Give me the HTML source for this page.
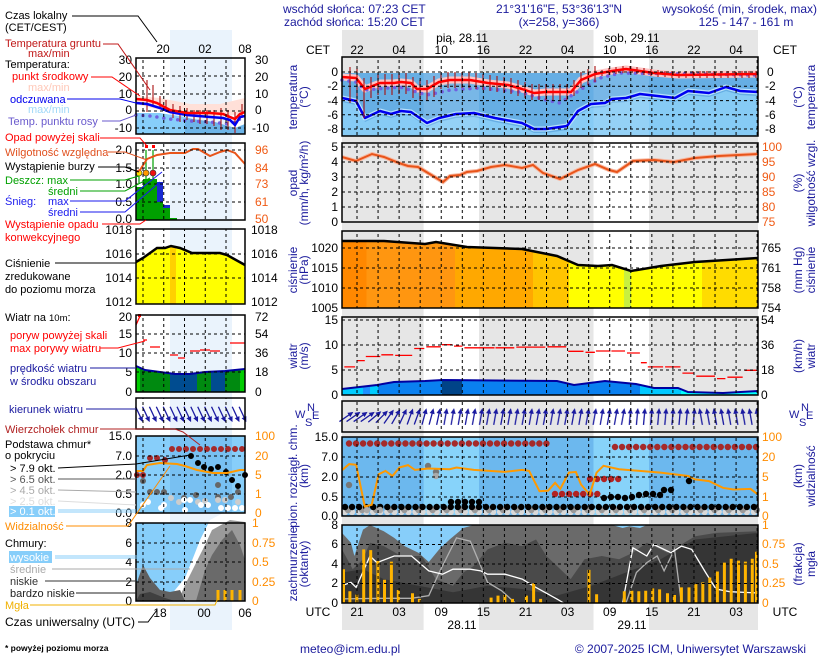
<!DOCTYPE html>
<html><head><meta charset="utf-8"><style>
html,body{margin:0;padding:0;background:#fff;width:820px;height:660px;overflow:hidden}
svg{display:block}
text{font-family:"Liberation Sans",sans-serif}
</style></head><body>
<svg xmlns="http://www.w3.org/2000/svg" xmlns:xlink="http://www.w3.org/1999/xlink" width="820" height="660" viewBox="0 0 820 660">
<defs>
<clipPath id="cpP"><polygon points="342,308 342,241 384,241 425,244 436,242 467,247 522,249 557,256 578,265 598,266 612,265 631,271 661,266 695,262 758,258 758,308"/></clipPath>
<clipPath id="cpW"><polygon points="342,395 342,389 377,385 394,382 425,381 443,380 557,381 574,385 605,381 636,384 654,388 678,388 688,392 723,393 758,391 758,395"/></clipPath>
<clipPath id="cpLP"><polygon points="136,304 136,262 143,258 157,248 165,248 171,246 180,248 192,253 220,253 227,255 245,265 245,304"/></clipPath>
<clipPath id="cpLW"><polygon points="136,392 136,366 145,370 160,372 175,374 190,374 205,372 225,371 245,369 245,392"/></clipPath>
<pattern id="vg" x="356.5" y="0" width="21.06" height="6" patternUnits="userSpaceOnUse"><rect x="0" y="0" width="1" height="3" fill="#000"/></pattern>
<pattern id="lvg" x="142.5" y="0" width="20.75" height="6" patternUnits="userSpaceOnUse"><rect x="0" y="0" width="1" height="3" fill="#000"/></pattern>
<g id="ar"><line x1="0" y1="8" x2="0" y2="-5" stroke="#1a1aa0" stroke-width="1.3"/><polygon points="0,-9 -2.6,-3.5 2.6,-3.5" fill="#1a1aa0"/></g>
<pattern id="p10" x="342.45" y="401" width="7.1" height="31" patternUnits="userSpaceOnUse"><use href="#ar" xlink:href="#ar" transform="translate(3.55,16) rotate(10)"/></pattern>
<pattern id="p5" x="342.45" y="401" width="7.1" height="31" patternUnits="userSpaceOnUse"><use href="#ar" xlink:href="#ar" transform="translate(3.55,16) rotate(5)"/></pattern>
<pattern id="pm10" x="342.45" y="401" width="7.1" height="31" patternUnits="userSpaceOnUse"><use href="#ar" xlink:href="#ar" transform="translate(3.55,16) rotate(-10)"/></pattern>
</defs>

<rect x="342" y="30" width="416" height="600" fill="#e6e6e6"/>
<rect x="423.6" y="30" width="55.4" height="600" fill="#fff"/>
<rect x="593.5" y="30" width="55.5" height="600" fill="#fff"/>
<rect x="170" y="30" width="62" height="600" fill="#eaf3fc"/>

<!-- MAIN TEMP -->
<rect x="342" y="73" width="416" height="63" fill="#66aee4"/>
<polygon points="342,102 356,105 365,122 380,115 391,118 401,115 411,116 427,127 439,122 456,118 474,117 495,122 522,127 534,133 546,133 567,130 578,115 591,108 605,107 612,103 626,102 640,98 675,102 688,95 709,97 726,91 740,95 758,96 758,136 342,136" fill="#86cbf5"/>
<rect x="423.6" y="73" width="55.4" height="63" fill="#fff" opacity="0.12"/>
<rect x="593.5" y="73" width="55.5" height="63" fill="#fff" opacity="0.12"/>
<polyline fill="none" stroke="#b8e2fb" stroke-width="5" stroke-linejoin="round" points="342,98 356,101 365,118 380,111 391,114 401,111 411,112 427,123 439,118 456,114 474,113 495,118 522,123 534,129 546,129 567,126 578,111 591,104 605,103 612,99 626,98 640,94 675,98 688,91 709,93 726,87 740,91 758,92"/>
<polyline fill="none" stroke="#0000f0" stroke-width="2.5" stroke-linejoin="round" points="342,98 356,101 365,118 380,111 391,114 401,111 411,112 427,123 439,118 456,114 474,113 495,118 522,123 534,129 546,129 567,126 578,111 591,104 605,103 612,99 626,98 640,94 675,98 688,91 709,93 726,87 740,91 758,92"/>
<polyline fill="none" stroke="#ffc4c4" stroke-width="7" stroke-linejoin="round" points="342,77 356,78 365,89 380,83 394,83 401,82 411,83 417,89 427,89 439,82 450,80 470,80 488,83 508,85 522,89 534,93 546,92 571,92 581,80 595,74 612,71 626,69 640,71 654,73 678,75 758,74"/>
<polyline fill="none" stroke="#7060e0" stroke-width="3.5" stroke-linecap="round" stroke-dasharray="0,7" points="342,80 356,82 365,90 400,87 427,95 450,90 480,88 520,92 546,100 560,103 580,90 600,78 620,73 758,75"/>
<path fill="none" stroke="#a81010" stroke-width="1.1" d="M350 67V103M357 68V104M364 78V118M371 77V98M378 74V95M385 74V95M392 74V95M399 73V94M406 73V94M413 77V98M420 80V101M427 80V101M434 76V97M441 73V89M448 72V88M455 72V88M462 72V88M469 72V88M476 73V89M483 74V90M490 75V91M497 76V92M504 77V93M511 78V94M518 80V96M525 82V98M532 84V100M539 84V100M546 84V100M553 84V100M560 84V100M567 84V100M574 80V96M581 72V88M588 69V85M595 66V82M602 70V76M609 68V75M616 67V74M623 66V73M630 66V73M637 67V74M644 68V75M651 69V76M658 70V77M665 71V77M672 71V78M679 72V78M686 71V78M693 71V78M700 71V78M707 71V78M714 71V78M721 71V78M728 71V78M735 71V78M742 71V78M749 71V78M756 71V78"/>
<polyline fill="none" stroke="#ff0000" stroke-width="2.5" stroke-linejoin="round" points="342,77 356,78 365,89 380,83 394,83 401,82 411,83 417,89 427,89 439,82 450,80 470,80 488,83 508,85 522,89 534,93 546,92 571,92 581,80 595,74 612,71 626,69 640,71 654,73 678,75 758,74"/>

<!-- MAIN PRECIP -->
<polyline fill="none" stroke="#f8b8a0" stroke-width="4" points="342,157 356,161 372,154 384,157 399,163 408,166 418,167 443,182 450,176 460,175 467,172 477,171 491,167 505,165 522,168 533,165 543,173 560,179 578,170 595,164 609,170 617,172 633,161 654,160 674,162 695,158 719,156 758,154"/>
<polyline fill="none" stroke="#e8541a" stroke-width="2" points="342,157 356,161 372,154 384,157 399,163 408,166 418,167 443,182 450,176 460,175 467,172 477,171 491,167 505,165 522,168 533,165 543,173 560,179 578,170 595,164 609,170 617,172 633,161 654,160 674,162 695,158 719,156 758,154"/>

<!-- MAIN PRESSURE -->
<g clip-path="url(#cpP)">
<rect x="342" y="231" width="25" height="78" fill="#ff8800"/>
<rect x="366.5" y="231" width="89" height="78" fill="#ff9610"/>
<rect x="455" y="231" width="78.5" height="78" fill="#ffa800"/>
<rect x="533" y="231" width="36.5" height="78" fill="#ffc400"/>
<rect x="569" y="231" width="55.5" height="78" fill="#ffff00"/>
<rect x="624" y="231" width="7.5" height="78" fill="#c8f040"/>
<rect x="631" y="231" width="71.5" height="78" fill="#ffff00"/>
<rect x="702" y="231" width="56" height="78" fill="#ffdc00"/>
</g>
<polyline fill="none" stroke="#000" stroke-width="2.5" points="342,241 384,241 425,244 436,242 467,247 522,249 557,256 578,265 598,266 612,265 631,271 661,266 695,262 758,258"/>

<!-- MAIN WIND -->
<g clip-path="url(#cpW)">
<rect x="342" y="370" width="21.5" height="26" fill="#00ccff"/>
<rect x="363" y="370" width="7.5" height="26" fill="#1e90ff"/>
<rect x="370" y="370" width="8.5" height="26" fill="#00ccff"/>
<rect x="378" y="370" width="64.5" height="26" fill="#0a80f0"/>
<rect x="442" y="370" width="20.5" height="26" fill="#004488"/>
<rect x="462" y="370" width="178.5" height="26" fill="#0a80f0"/>
<rect x="640" y="370" width="41.5" height="26" fill="#00c8ff"/>
<rect x="681" y="370" width="77" height="26" fill="#00ffff"/>
</g>
<polyline fill="none" stroke="#0000a0" stroke-width="2" points="342,389 377,385 394,382 425,381 443,380 557,381 574,385 605,381 636,384 654,388 678,388 688,392 723,393 758,391"/>
<path fill="none" stroke="#ff0000" stroke-width="1.3" d="M344.3 366.9H355.1M357.1 360.6H364.8M365.8 356.5H380.3M381.3 354.8H393.2M395.2 355.4H412.2M414.2 348.5H424.3M426.3 346.8H440.9M441.9 344.7H452M454 346.1H462.4M464.4 347.8H494.5M495.5 347.8H514.3M516.3 347.1H545.4M547.4 346.8H566.2M568.2 351.3H583.5M585.5 352.3H594.9M595.9 351H610.4M611.4 351H625M627 353H639.9M640.9 362.7H646.8M647.8 366.9H663.1M665.1 366.9H680.4M682.4 373.1H694.2M696.2 376.2H715M717 378.6H725.4M727.4 377.2H742.7M744.7 370.3H757"/>

<!-- MAIN DIRECTION -->
<use href="#ar" xlink:href="#ar" transform="translate(346,417) rotate(55)"/>
<use href="#ar" xlink:href="#ar" transform="translate(353.1,417) rotate(55)"/>
<use href="#ar" xlink:href="#ar" transform="translate(360.2,417) rotate(55)"/>
<use href="#ar" xlink:href="#ar" transform="translate(367.3,417) rotate(55)"/>
<use href="#ar" xlink:href="#ar" transform="translate(374.4,417) rotate(50)"/>
<use href="#ar" xlink:href="#ar" transform="translate(381.5,417) rotate(45)"/>
<use href="#ar" xlink:href="#ar" transform="translate(388.6,417) rotate(35)"/>
<use href="#ar" xlink:href="#ar" transform="translate(395.7,417) rotate(30)"/>
<use href="#ar" xlink:href="#ar" transform="translate(402.8,417) rotate(25)"/>
<use href="#ar" xlink:href="#ar" transform="translate(409.9,417) rotate(20)"/>
<use href="#ar" xlink:href="#ar" transform="translate(417,417) rotate(20)"/>
<use href="#ar" xlink:href="#ar" transform="translate(424.1,417) rotate(15)"/>
<use href="#ar" xlink:href="#ar" transform="translate(431.2,417) rotate(15)"/>
<use href="#ar" xlink:href="#ar" transform="translate(438.3,417) rotate(12)"/>
<rect x="441.85" y="401" width="184.6" height="31" fill="url(#p10)"/>
<rect x="626.45" y="401" width="71" height="31" fill="url(#p5)"/>
<rect x="697.45" y="401" width="60.55" height="31" fill="url(#pm10)"/>

<!-- MAIN CLOUD BASE -->
<rect x="342" y="437" width="416" height="79" fill="#6cb8ee"/>
<rect x="423.6" y="437" width="55.4" height="79" fill="#87d3fa"/>
<rect x="593.5" y="437" width="55.5" height="79" fill="#87d3fa"/>
<line x1="345" y1="512" x2="758" y2="512" stroke="#d8d8d8" stroke-width="6.4" stroke-linecap="round" stroke-dasharray="0 7.05"/>
<line x1="348" y1="510" x2="758" y2="510" stroke="#999" stroke-width="6.4" stroke-linecap="round" stroke-dasharray="0 14.1"/>
<line x1="345" y1="507" x2="758" y2="507" stroke="#000" stroke-width="6.4" stroke-linecap="round" stroke-dasharray="0 7.05"/>
<path fill="none" stroke="#000" stroke-width="6.4" stroke-linecap="round" d="M451 502h0M458 502h0M465 502h0M472 502h0M479 502h0M604 498h0M611 497h0M618 497h0M625 498h0M632 497h0M639 495h0M646 494h0M653 494h0M660 495h0M689 481h0M664 490h0M671 490h0"/>
<path fill="none" stroke="#777" stroke-width="6.4" stroke-linecap="round" d="M349 485h0M428 466h0M436 472h0"/>
<path fill="none" stroke="#aaa" stroke-width="6.4" stroke-linecap="round" d="M436 476h0M367 510h0M380 510h0"/>
<line x1="349" y1="443.5" x2="549" y2="443.5" stroke="#a52a2a" stroke-width="6.4" stroke-linecap="round" stroke-dasharray="0 7.05"/>
<line x1="615" y1="447" x2="758" y2="447" stroke="#a52a2a" stroke-width="6.4" stroke-linecap="round" stroke-dasharray="0 7.05"/>
<line x1="555" y1="494" x2="600" y2="494" stroke="#b22222" stroke-width="6.4" stroke-linecap="round" stroke-dasharray="0 7.05"/>
<line x1="590" y1="479" x2="620" y2="479" stroke="#b22222" stroke-width="6.4" stroke-linecap="round" stroke-dasharray="0 7.05"/>
<polyline fill="none" stroke="#ff9900" stroke-width="2" points="342,470.2 349.2,464.1 356.1,464.8 364.8,506.5 371.7,504.8 378.6,474.3 385.5,470.9 392.5,476 399.4,467.5 408,465.1 414.9,469.9 428.8,468.5 449.6,469.2 456.5,467.5 473.8,469.9 504.9,471.9 522.2,469.9 529.1,470.9 539.5,491.2 548.2,490.6 555.1,482.8 560.3,488.9 568.9,472.6 575.8,471.9 581,484.5 589.7,494.6 596.6,472.6 603.5,465.8 619.1,469.2 660.6,472.6 688.3,476 695.2,479.4 709.1,481.1 722.9,487.8 733.3,489.5 750.6,488.9 758,494.6"/>

<!-- MAIN CLOUD COVER -->
<rect x="342" y="525" width="416" height="78" fill="#87cefa"/>
<polygon fill="#6a6a6a" points="342,532.9 350.9,542.8 354.4,556 363,529.6 370,525 383.8,531.3 394.2,537.9 404.6,546.1 418.4,552.7 428.8,562 439.2,549.4 449.6,539.5 463.4,528 473.8,525 612.2,525 622.6,528 629.5,526.3 639.9,528 646.8,525 758,525 758,603 342,603"/>
<polygon fill="#4a4a4a" points="342,549.4 352.7,569.2 363,559.3 370,542.8 383.8,546.1 401.1,556 421.9,556 435.7,579.1 453,585.7 463.4,572.5 473.8,565.9 487.6,549.4 504.9,542.8 522.2,546.1 536,539.5 546.4,556 556.8,565.9 570.7,579.1 584.5,559.3 601.8,556 619.1,559.3 632.9,552.7 646.8,542.8 667.5,552.7 695.2,536.2 716,532.9 758,531.3 758,603 342,603"/>
<polygon fill="#353535" points="342,572.5 363,569.2 383.8,579.1 418.4,585.7 453,592.3 487.6,585.7 522.2,589 556.8,595.6 591.4,585.7 626,572.5 660.6,559.3 695.2,539.5 758,532.9 758,603 342,603"/>
<polyline fill="none" stroke="#b0b0b0" stroke-width="1.3" points="342,598.9 383.8,598.3 411.5,598.3 428.8,595.6 439.2,572.5 456.5,537.9 470.3,541.2 487.6,582.4 501.5,590.7 515.3,603"/>
<polyline fill="none" stroke="#b0b0b0" stroke-width="1.3" points="626,603 636.4,572.5 646.8,562.6 657.2,556 664.1,570.9 674.5,549.4 681.4,603"/>
<polyline fill="none" stroke="#fff" stroke-width="1.3" points="342,585.7 350.9,582.4 356.1,587.4 370,556 376.9,562.6 394.2,556 411.5,556 428.8,570.9 442.6,574.2 453,569.2 470.3,569.2 480.7,570.9 487.6,574.2 504.9,574.2 522.2,579.1 536,587.4 556.8,598.9 563.7,603"/>
<polyline fill="none" stroke="#fff" stroke-width="1.3" points="622.6,603 632.9,547.8 646.8,556 653.7,544.5 671,552.7 681.4,546.1 691.7,549.4 705.6,572.5 716,589 729.8,591.7 758,593"/>
<path fill="none" stroke="#ffb400" stroke-width="3" d="M343.5 603V569.2M349.9 603V591.3M356.8 603V594.6M363.7 603V549.4M370.7 603V550.1M377.9 603V561M384.5 603V579.8M391.4 603V561.6M398.3 603V590M412.5 603V593.3M419.4 603V598.9M491.1 603V597.6M498 603V595.6M504.9 603V595M512.5 603V598.9M526.4 603V595.6M533.6 603V583.4M540.6 603V598.9M589 603V569.9M596.6 603V594.3M624.3 603V591.3M631.9 603V590.7M638.8 603V591.3M645.7 603V590.7M652.7 603V588.4M659.6 603V589.4M667.5 603V593.3M674.5 603V595M681.4 603V587.4M689 603V587.4M695.9 603V584.1M702.8 603V582.4M709.8 603V577.5M717.4 603V571.5M724.4 603V562.6M731.2 603V558.7M738.5 603V560.6M745.4 603V561.6M752.3 603V558.7M756.5 603V551.7"/>

<!-- MAIN GRIDS -->
<g>
<rect x="342" y="57" width="416" height="79" fill="url(#vg)"/>
<rect x="342" y="143" width="416" height="79" fill="url(#vg)"/>
<rect x="342" y="231" width="416" height="77" fill="url(#vg)"/>
<rect x="342" y="317" width="416" height="78" fill="url(#vg)"/>
<rect x="342" y="401" width="416" height="31" fill="url(#vg)"/>
<rect x="342" y="437" width="416" height="79" fill="url(#vg)"/>
<rect x="342" y="525" width="416" height="78" fill="url(#vg)"/>
</g>
<path fill="none" stroke="#000" stroke-width="1" stroke-dasharray="3,3" d="M342 72H758M342 86.3H758M342 100.6H758M342 114.8H758M342 129H758M342 147H758M342 162H758M342 177H758M342 192H758M342 207H758M342 248H758M342 268H758M342 288H758M342 320H758M342 345H758M342 370H758M342 457H758M342 477H758M342 497H758M342 544.5H758M342 564H758M342 583.5H758"/>
<g fill="none" stroke="#000" stroke-width="1.5">
<rect x="342" y="57" width="416" height="79"/>
<rect x="342" y="143" width="416" height="79"/>
<rect x="342" y="231" width="416" height="77"/>
<rect x="342" y="317" width="416" height="78"/>
<rect x="342" y="401" width="416" height="31"/>
<rect x="342" y="437" width="416" height="79"/>
<rect x="342" y="525" width="416" height="78"/>
</g>

<!-- LEFT PANEL -->
<polygon points="136,96 160,98 190,104 220,104 245,98 245,114 220,116 190,116 160,110 136,104" fill="#ffe0d8"/>
<polygon points="136,113 160,113 185,117 215,125 245,130 245,134 136,134" fill="#87cefa"/>
<polygon points="185,118 215,122 235,128 245,124 245,134 185,134" fill="#6cb4e8"/>
<polyline fill="none" stroke="#7060e0" stroke-width="3.5" stroke-linecap="round" stroke-dasharray="0,7" points="136,115 150,116 170,119 190,121 210,122 230,124 240,119"/>
<path fill="none" stroke="#a81010" stroke-width="1.1" d="M147 80V112M153 85V105M160 96V108M166 100V112M173 104V118M180 106V122M187 108V120M194 110V122M200 110V124M207 110V124M214 110V126M221 108V130M228 110V130M235 112V133M242 104V118"/>
<polyline fill="none" stroke="#0000f0" stroke-width="2.5" points="136,103 147,104 160,108 170,112 187,115 210,117 223,118 230,120 235,125 240,117 245,116"/>
<polyline fill="none" stroke="#ff0000" stroke-width="2.5" points="136,99 147,100 157,103 170,110 187,113 210,113 223,114 230,117 235,119 240,114 245,112"/>
<rect x="136" y="187" width="7" height="33" fill="#00a000"/>
<rect x="143" y="179" width="14" height="41" fill="#00a000"/>
<rect x="157" y="202" width="6" height="18" fill="#00a000"/>
<rect x="163" y="208" width="7" height="12" fill="#00a000"/>
<rect x="170" y="218" width="7" height="2" fill="#00a000"/>
<rect x="157" y="182" width="6" height="20" fill="#1a2ad0"/>
<rect x="163" y="205" width="7" height="3" fill="#1a2ad0"/>
<path stroke="#00a000" stroke-width="1.2" d="M139 173V184M146 150V184M153 150V184"/>
<circle cx="139" cy="173" r="3" fill="#ffe000" stroke="#333" stroke-width="0.6"/>
<circle cx="146" cy="173" r="3" fill="#ff9900" stroke="#333" stroke-width="0.6"/>
<circle cx="153" cy="173" r="3" fill="#ee1010" stroke="#333" stroke-width="0.6"/>
<rect x="145" y="145" width="3" height="3" fill="#ff0000"/><rect x="152" y="145" width="3" height="3" fill="#ff0000"/>
<polyline fill="none" stroke="#e8541a" stroke-width="2" points="136,172 140,170 147,159 157,155 170,153 185,153 193,149 198,149 210,156 220,152 227,150 235,153 245,164"/>
<g clip-path="url(#cpLP)"><rect x="136" y="229" width="109" height="76" fill="#ffff00"/><rect x="170" y="229" width="6" height="76" fill="#ffd000"/></g>
<polyline fill="none" stroke="#000" stroke-width="2.5" points="136,262 143,258 157,248 165,248 171,246 180,248 192,253 220,253 227,255 245,265"/>
<g clip-path="url(#cpLW)">
<rect x="136" y="360" width="4.5" height="33" fill="#00cc00"/>
<rect x="140" y="360" width="30.5" height="33" fill="#008a10"/>
<rect x="170" y="360" width="27.5" height="33" fill="#004c90"/>
<rect x="197" y="360" width="14.5" height="33" fill="#008a10"/>
<rect x="211" y="360" width="14.5" height="33" fill="#004c90"/>
<rect x="225" y="360" width="15.5" height="33" fill="#008a10"/>
<rect x="240" y="360" width="5" height="33" fill="#00cc00"/>
</g>
<polyline fill="none" stroke="#0000a0" stroke-width="2" points="136,366 145,370 160,372 175,374 190,374 205,372 225,371 245,369"/>
<path fill="none" stroke="#ff0000" stroke-width="1.3" d="M136 325L140 316M143 340H147M150 347H160M170 355H178M178 358H185M190 351H200M200 350H210M210 351H220M230 343H245"/>
<rect x="138" y="314" width="3" height="3" fill="#ff0000"/>
<use href="#ar" xlink:href="#ar" transform="translate(139,414) rotate(155)"/>
<use href="#ar" xlink:href="#ar" transform="translate(145.9,414) rotate(155)"/>
<use href="#ar" xlink:href="#ar" transform="translate(152.8,414) rotate(155)"/>
<use href="#ar" xlink:href="#ar" transform="translate(159.7,414) rotate(155)"/>
<use href="#ar" xlink:href="#ar" transform="translate(166.6,414) rotate(155)"/>
<use href="#ar" xlink:href="#ar" transform="translate(173.5,414) rotate(155)"/>
<use href="#ar" xlink:href="#ar" transform="translate(180.4,414) rotate(155)"/>
<use href="#ar" xlink:href="#ar" transform="translate(187.3,414) rotate(155)"/>
<use href="#ar" xlink:href="#ar" transform="translate(194.2,414) rotate(155)"/>
<use href="#ar" xlink:href="#ar" transform="translate(201.1,414) rotate(155)"/>
<use href="#ar" xlink:href="#ar" transform="translate(208,414) rotate(155)"/>
<use href="#ar" xlink:href="#ar" transform="translate(214.9,414) rotate(155)"/>
<use href="#ar" xlink:href="#ar" transform="translate(221.8,414) rotate(155)"/>
<use href="#ar" xlink:href="#ar" transform="translate(228.7,414) rotate(155)"/>
<use href="#ar" xlink:href="#ar" transform="translate(235.6,414) rotate(155)"/>
<use href="#ar" xlink:href="#ar" transform="translate(242.5,414) rotate(155)"/>
<rect x="136" y="436" width="109" height="77" fill="#87cefa"/>
<rect x="170" y="436" width="62" height="77" fill="#78c0f2"/>
<line x1="172" y1="449" x2="246" y2="449" stroke="#a52a2a" stroke-width="6" stroke-linecap="round" stroke-dasharray="0 7"/>
<path fill="none" stroke-linecap="round" stroke-width="6" stroke="#a52a2a" d="M150 458h0M157 458h0M165 460h0M137 475h0M143 475h0"/>
<path fill="none" stroke-linecap="round" stroke-width="6" stroke="#000" d="M191 456h0M198 463h0M204 467h0M211 469h0M218 467h0M226 472h0M232 480h0M238 486h0M245 475h0"/>
<path fill="none" stroke-linecap="round" stroke-width="6" stroke="#666" d="M143 481h0M150 492h0M157 492h0M164 492h0M184 498h0M196 495h0M218 485h0M218 497h0M231 497h0M238 492h0"/>
<path fill="none" stroke-linecap="round" stroke-width="6" stroke="#ccc" d="M171 498h0M179 502h0M198 502h0M205 501h0M218 500h0M225 500h0M238 502h0"/>
<path fill="none" stroke-linecap="round" stroke-width="6" stroke="#fff" d="M148 502h0M164 505h0M184 500h0M190 500h0M201 505h0M208 505h0M221 508h0M228 508h0M235 508h0M242 508h0M185 510h0M161 508h0M143 505h0"/>
<polyline fill="none" stroke="#ff9900" stroke-width="2" points="136,471 143,471 147,465 160,463 177,464 185,466 197,470 213,473 227,473 240,470 245,470"/>
<rect x="136" y="523" width="109" height="78" fill="#87cefa"/>
<polygon points="168,601 175,590 185,578 195,553 200,540 210,520 225,512 238,514 245,520 245,601" fill="#ffffff"/>
<polygon points="178,601 185,585 195,565 205,545 212,530 230,520 245,522 245,601" fill="#9a9a9a"/>
<polygon points="196,601 205,570 212,555 222,540 232,530 240,545 245,560 245,601" fill="#6a6a6a"/>
<polygon points="136,601 136,585 143,565 150,578 160,590 170,592 180,590 185,601" fill="#606060"/>
<polygon points="136,601 140,594 150,592 165,598 175,601" fill="#404040"/>
<path stroke="#ffb400" stroke-width="3" d="M218 601V590M225 601V590M232 601V590M240 601V590"/>
<g>
<rect x="136" y="58" width="109" height="76" fill="url(#lvg)"/>
<rect x="136" y="143" width="109" height="77" fill="url(#lvg)"/>
<rect x="136" y="229" width="109" height="75" fill="url(#lvg)"/>
<rect x="136" y="315" width="109" height="77" fill="url(#lvg)"/>
<rect x="136" y="398" width="109" height="31" fill="url(#lvg)"/>
<rect x="136" y="436" width="109" height="77" fill="url(#lvg)"/>
<rect x="136" y="523" width="109" height="78" fill="url(#lvg)"/>
</g>
<path fill="none" stroke="#000" stroke-width="1" stroke-dasharray="3,3" d="M136 76H245M136 94H245M136 111H245M136 128H245M136 150H245M136 168H245M136 184H245M136 202H245M136 254H245M136 278H245M136 334H245M136 353H245M136 372H245M136 456H245M136 475H245M136 494H245M136 543H245M136 562H245M136 582H245"/>
<g fill="none" stroke="#000" stroke-width="1.5">
<rect x="136" y="58" width="109" height="76"/>
<rect x="136" y="143" width="109" height="77"/>
<rect x="136" y="229" width="109" height="75"/>
<rect x="136" y="315" width="109" height="77"/>
<rect x="136" y="398" width="109" height="31"/>
<rect x="136" y="436" width="109" height="77"/>
<rect x="136" y="523" width="109" height="78"/>
</g>

<!-- TEXT -->
<g font-size="12" fill="#1a1a9c">
<text x="283" y="13">wschód słońca: 07:23 CET</text>
<text x="284" y="26">zachód słońca: 15:20 CET</text>
<text x="559" y="13" text-anchor="middle">21°31'16"E, 53°36'13"N</text>
<text x="559" y="26" text-anchor="middle">(x=258,  y=366)</text>
<text x="817" y="13" text-anchor="end">wysokość (min, środek, max)</text>
<text x="746" y="26" text-anchor="middle">125 - 147 - 161 m</text>
<text x="300" y="653">meteo@icm.edu.pl</text>
<text x="806" y="653" text-anchor="end">© 2007-2025 ICM, Uniwersytet Warszawski</text>
</g>
<g font-size="12" fill="#000">
<text x="462" y="42" text-anchor="middle">pią, 28.11</text>
<text x="632" y="42" text-anchor="middle">sob, 29.11</text>
<text x="318" y="54" text-anchor="middle">CET</text>
<text x="785" y="54" text-anchor="middle">CET</text>
<text x="318" y="616" text-anchor="middle">UTC</text>
<text x="785" y="616" text-anchor="middle">UTC</text>
<text x="462" y="629" text-anchor="middle">28.11</text>
<text x="632" y="629" text-anchor="middle">29.11</text>
</g>
<g font-size="12" fill="#000" text-anchor="middle">
<text x="357" y="54">22</text><text x="399.1" y="54">04</text><text x="441.2" y="54">10</text><text x="483.4" y="54">16</text><text x="525.5" y="54">22</text><text x="567.6" y="54">04</text><text x="609.7" y="54">10</text><text x="651.8" y="54">16</text><text x="693.9" y="54">22</text><text x="736.1" y="54">04</text>
<text x="357" y="616">21</text><text x="399.1" y="616">03</text><text x="441.2" y="616">09</text><text x="483.4" y="616">15</text><text x="525.5" y="616">21</text><text x="567.6" y="616">03</text><text x="609.7" y="616">09</text><text x="651.8" y="616">15</text><text x="693.9" y="616">21</text><text x="736.1" y="616">03</text>
<text x="163" y="53">20</text><text x="205" y="53">02</text><text x="245" y="53">08</text>
<text x="160" y="617">18</text><text x="204" y="617">00</text><text x="245" y="617">06</text>
</g>
<g font-size="12" fill="#000" text-anchor="end">
<text x="338" y="76">0</text><text x="338" y="90">-2</text><text x="338" y="105">-4</text><text x="338" y="119">-6</text><text x="338" y="133">-8</text>
<text x="338" y="151">5</text><text x="338" y="166">4</text><text x="338" y="181">3</text><text x="338" y="196">2</text><text x="338" y="211">1</text><text x="338" y="226">0</text>
<text x="338" y="252">1020</text><text x="338" y="272">1015</text><text x="338" y="292">1010</text><text x="338" y="312">1005</text>
<text x="338" y="324">15</text><text x="338" y="349">10</text><text x="338" y="374">5</text><text x="338" y="399">0</text>
<text x="338" y="441">15.0</text><text x="338" y="461">7.0</text><text x="338" y="481">2.0</text><text x="338" y="501">0.5</text><text x="338" y="520">0.0</text>
<text x="338" y="529">8</text><text x="338" y="548">6</text><text x="338" y="568">4</text><text x="338" y="587">2</text><text x="338" y="607">0</text>
<text x="132" y="64">30</text><text x="132" y="81">20</text><text x="132" y="98">10</text><text x="132" y="114">0</text><text x="132" y="132">-10</text>
<text x="132" y="154">2.0</text><text x="132" y="172">1.5</text><text x="132" y="188">1.0</text><text x="132" y="206">0.5</text><text x="132" y="223">0.0</text>
<text x="132" y="234">1018</text><text x="132" y="258">1016</text><text x="132" y="282">1014</text><text x="132" y="306">1012</text>
<text x="132" y="321">20</text><text x="132" y="338">15</text><text x="132" y="357">10</text><text x="132" y="376">5</text><text x="132" y="396">0</text>
<text x="132" y="440">15.0</text><text x="132" y="460">7.0</text><text x="132" y="479">2.0</text><text x="132" y="498">0.5</text><text x="132" y="517">0.0</text>
<text x="132" y="527">8</text><text x="132" y="547">6</text><text x="132" y="566">4</text><text x="132" y="586">2</text><text x="132" y="605">0</text>
</g>
<g font-size="12" fill="#000">
<text x="767" y="76">0</text><text x="765" y="90">-2</text><text x="765" y="105">-4</text><text x="765" y="119">-6</text><text x="765" y="133">-8</text>
<text x="761" y="252">765</text><text x="761" y="272">761</text><text x="761" y="292">758</text><text x="761" y="312">754</text>
<text x="761" y="324">54</text><text x="761" y="349">36</text><text x="761" y="374">18</text><text x="761" y="399">0</text>
<text x="255" y="64">30</text><text x="255" y="81">20</text><text x="255" y="98">10</text><text x="255" y="114">0</text><text x="252" y="132">-10</text>
<text x="251" y="234">1018</text><text x="251" y="258">1016</text><text x="251" y="282">1014</text><text x="251" y="306">1012</text>
<text x="255" y="321">72</text><text x="255" y="338">54</text><text x="255" y="357">36</text><text x="255" y="376">18</text><text x="255" y="396">0</text>
</g>
<g font-size="12" fill="#f05a14">
<text x="762" y="151">100</text><text x="762" y="166">95</text><text x="762" y="181">90</text><text x="762" y="196">85</text><text x="762" y="211">80</text><text x="762" y="226">75</text>
<text x="255" y="154">96</text><text x="255" y="172">84</text><text x="255" y="188">73</text><text x="255" y="206">61</text><text x="255" y="223">50</text>
</g>
<g font-size="12" fill="#ff8c00">
<text x="762" y="441">100</text><text x="762" y="461">20</text><text x="762" y="481">5</text><text x="762" y="501">1</text><text x="762" y="520">0</text>
<text x="762" y="529">1</text><text x="762" y="548">0.75</text><text x="762" y="568">0.5</text><text x="762" y="587">0.25</text><text x="762" y="607">0</text>
<text x="255" y="440">100</text><text x="255" y="460">20</text><text x="255" y="479">5</text><text x="255" y="498">1</text><text x="255" y="517">0</text>
<text x="252" y="527">1</text><text x="252" y="547">0.75</text><text x="252" y="566">0.5</text><text x="252" y="586">0.25</text><text x="252" y="605">0</text>
</g>
<g font-size="12" fill="#1a1a9c" text-anchor="middle">
<text transform="translate(297,97) rotate(-90)">temperatura</text>
<text transform="translate(308,97) rotate(-90)">(°C)</text>
<text transform="translate(297,183) rotate(-90)">opad</text>
<text transform="translate(308,183) rotate(-90)">(mm/h, kg/m²/h)</text>
<text transform="translate(297,270) rotate(-90)">ciśnienie</text>
<text transform="translate(308,270) rotate(-90)">(hPa)</text>
<text transform="translate(297,356) rotate(-90)">wiatr</text>
<text transform="translate(308,356) rotate(-90)">(m/s)</text>
<text transform="translate(297,476) rotate(-90)">pion. rozciągł. chm.</text>
<text transform="translate(308,476) rotate(-90)">(km)</text>
<text transform="translate(297,564) rotate(-90)">zachmurzenie</text>
<text transform="translate(308,564) rotate(-90)">(oktanty)</text>
<text transform="translate(802,97) rotate(-90)">(°C)</text>
<text transform="translate(815,97) rotate(-90)">temperatura</text>
<text transform="translate(802,183) rotate(-90)">(%)</text>
<text transform="translate(815,183) rotate(-90)">wilgotność wzgl.</text>
<text transform="translate(802,270) rotate(-90)">(mm Hg)</text>
<text transform="translate(815,270) rotate(-90)">ciśnienie</text>
<text transform="translate(802,356) rotate(-90)">(km/h)</text>
<text transform="translate(815,356) rotate(-90)">wiatr</text>
<text transform="translate(802,476) rotate(-90)">(km)</text>
<text transform="translate(815,476) rotate(-90)">widzialność</text>
<text transform="translate(802,564) rotate(-90)">(frakcja)</text>
<text transform="translate(815,564) rotate(-90)">mgła</text>
</g>
<g font-size="11" fill="#1a1a9c">
<text x="295" y="418">W</text><text x="307" y="411">N</text><text x="305" y="426">S</text><text x="312" y="419">E</text>
<text x="789" y="418">W</text><text x="801" y="411">N</text><text x="799" y="426">S</text><text x="806" y="419">E</text>
</g>
<g font-size="11">
<text x="5" y="19" fill="#000">Czas lokalny</text>
<text x="5" y="31" fill="#000">(CET/CEST)</text>
<text x="5" y="47" fill="#c01818">Temperatura gruntu</text>
<text x="28" y="57" fill="#c01818">max/min</text>
<text x="5" y="68" fill="#000">Temperatura:</text>
<text x="12" y="80" fill="#ff0000">punkt środkowy</text>
<text x="28" y="91" fill="#ffc8b8">max/min</text>
<text x="10" y="103" fill="#0000ee">odczuwana</text>
<text x="28" y="113" fill="#a0d8f8">max/min</text>
<text x="8" y="125" fill="#6a5acd">Temp. punktu rosy</text>
<text x="5" y="141" fill="#ff0000">Opad powyżej skali</text>
<text x="5" y="156" fill="#e0501e">Wilgotność względna</text>
<text x="5" y="170" fill="#000">Wystąpienie burzy</text>
<text x="5" y="184" fill="#00a000">Deszcz: max</text>
<text x="48" y="195" fill="#00a000">średni</text>
<text x="5" y="205" fill="#1a1aee">Śnieg:</text>
<text x="48" y="205" fill="#1a1aee">max</text>
<text x="48" y="216" fill="#1a1aee">średni</text>
<text x="5" y="228" fill="#ff0000">Wystąpienie opadu</text>
<text x="5" y="241" fill="#ff0000">konwekcyjnego</text>
<text x="5" y="267" fill="#000">Ciśnienie</text>
<text x="5" y="280" fill="#000">zredukowane</text>
<text x="5" y="293" fill="#000">do poziomu morza</text>
<text x="5" y="321" fill="#000">Wiatr na <tspan font-size="9.5">10m</tspan>:</text>
<text x="10" y="339" fill="#ff0000">poryw powyżej skali</text>
<text x="10" y="352" fill="#ff0000">max porywy wiatru</text>
<text x="10" y="372" fill="#1a1aa0">prędkość wiatru</text>
<text x="10" y="385" fill="#1a1aa0">w środku obszaru</text>
<text x="9" y="413" fill="#1a1aa0">kierunek wiatru</text>
<text x="5" y="433" fill="#b02020">Wierzchołek chmur</text>
<text x="5" y="448" fill="#000">Podstawa chmur*</text>
<text x="5" y="459" fill="#000">o pokryciu</text>
<text x="10" y="472" fill="#000">&gt; 7.9 okt.</text>
<text x="10" y="483" fill="#555">&gt; 6.5 okt.</text>
<text x="10" y="494" fill="#aaa">&gt; 4.5 okt.</text>
<text x="10" y="505" fill="#ddd">&gt; 2.5 okt.</text>
<rect x="9" y="506" width="46" height="11" fill="#87cefa"/>
<text x="10" y="515" fill="#fff">&gt; 0.1 okt.</text>
<text x="5" y="530" fill="#ff8c00">Widzialność</text>
<text x="5" y="547" fill="#000">Chmury:</text>
<rect x="9" y="551" width="43" height="12" fill="#87cefa"/>
<text x="10" y="561" fill="#fff">wysokie</text>
<text x="10" y="573" fill="#aaa">średnie</text>
<text x="10" y="585" fill="#333">niskie</text>
<text x="10" y="597" fill="#222">bardzo niskie</text>
<text x="5" y="609" fill="#f0b000">Mgła</text>
<text x="5" y="626" fill="#000" font-size="12">Czas uniwersalny (UTC)</text>
<text x="5" y="651" fill="#000" font-size="8.5" font-weight="bold">* powyżej poziomu morza</text>
</g>
<g fill="none" stroke-width="1">
<polyline points="72,16 138,16 157,42" stroke="#000"/>
<polyline points="103,44 118,44 150,90" stroke="#c01818"/>
<polyline points="91,77 112,77 140,96" stroke="#ff0000"/>
<polyline points="67,99 120,99 140,104" stroke="#0000ee"/>
<polyline points="102,121 120,121 136,115" stroke="#6a5acd"/>
<polyline points="100,138 140,138 147,146" stroke="#ff0000"/>
<polyline points="108,152 125,152 147,160" stroke="#e0501e"/>
<polyline points="98,167 125,167 139,172" stroke="#000"/>
<polyline points="70,180 125,180 139,176" stroke="#00a000"/>
<polyline points="80,191 125,191 150,178" stroke="#00a000"/>
<polyline points="70,201 125,201 162,172" stroke="#1a1aee"/>
<polyline points="80,212 125,212 160,182" stroke="#1a1aee"/>
<polyline points="102,224 140,224 146,220" stroke="#ff0000"/>
<polyline points="55,263 136,263" stroke="#000"/>
<polyline points="100,348 118,348 145,341" stroke="#ff0000"/>
<polyline points="90,368 136,368" stroke="#1a1aa0"/>
<polyline points="86,409 136,409" stroke="#1a1aa0"/>
<polyline points="100,429 175,429 183,432 200,445" stroke="#b02020"/>
<polyline points="58,468 136,464 190,455" stroke="#000"/>
<polyline points="58,479 136,479" stroke="#555"/>
<polyline points="58,490 136,492" stroke="#aaa"/>
<polyline points="58,501 136,505" stroke="#ddd"/>
<polyline points="58,510 136,510" stroke="#87cefa"/>
<polyline points="58,512 136,512" stroke="#87cefa"/>
<polyline points="66,526 128,526 170,466" stroke="#ff8c00"/>
<polyline points="55,556 190,556" stroke="#87cefa"/>
<polyline points="55,558 190,558" stroke="#87cefa"/>
<polyline points="52,569 190,569" stroke="#aaa"/>
<polyline points="45,581 136,581" stroke="#333"/>
<polyline points="76,593 136,593" stroke="#222"/>
<polyline points="30,605 215,605 218,598" stroke="#f0b000"/>
<polyline points="138,622 148,622 157,610" stroke="#000"/>
</g>
</svg>
</body></html>
